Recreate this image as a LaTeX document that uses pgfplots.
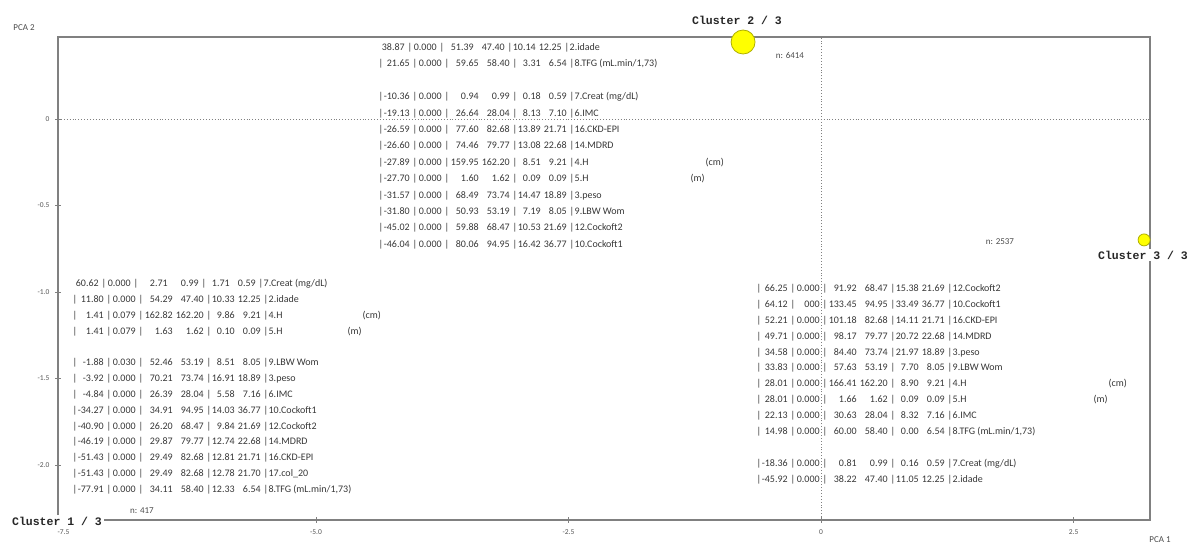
\documentclass[border=0pt]{standalone}
\usepackage{fontspec}
\setmainfont{Carlito}
\newfontfamily\clfont{Liberation Mono}
\usepackage{pgfplots}
\pgfplotsset{compat=1.18}
\definecolor{axgray}{RGB}{128,128,128}
\definecolor{txt}{RGB}{55,55,55}
\definecolor{cy}{RGB}{255,255,0}
\definecolor{cyd}{RGB}{175,175,0}
\newcommand\at[2]{\makebox[0pt][l]{\hspace*{#1}#2}}
\newcommand\rat[2]{\makebox[0pt][l]{\makebox[#1][r]{#2}}}
\newcommand\R[8]{\at{0pt}{#1}\rat{31pt}{#2}\at{34pt}{|}\rat{63pt}{#3}\at{66pt}{|}\rat{100pt}{#4}\rat{131pt}{#5}\at{134pt}{|}\rat{162pt}{#6}\rat{188pt}{#7}\at{191pt}{|}\at{196pt}{#8}}
\begin{document}
\begin{tikzpicture}
\useasboundingbox (0,0) rectangle (1192pt,545pt);
\begin{axis}[
  at={(58pt,25pt)}, anchor=south west,
  scale only axis, width=1092pt, height=483pt,
  xmin=-7.554, xmax=3.257, ymin=-2.318, ymax=0.474,
  axis line style={axgray, line width=1.3pt},
  xtick={-7.5,-5,-2.5,0,2.5}, xticklabels={-7.5,-5.0,-2.5,0,2.5},
  ytick={-2,-1.5,-1,-0.5,0}, yticklabels={-2.0,-1.5,-1.0,-0.5,0},
  xtick pos=lower, ytick pos=left,
  tick align=center, major tick length=6pt,
  tick style={axgray, line width=0.7pt},
  xticklabel style={font=\fontsize{7.5}{8}\selectfont, text=txt!85, yshift=-3pt},
  yticklabel style={font=\fontsize{7.5}{8}\selectfont, text=txt!85, xshift=-2pt},
  clip=false,
]
\draw[axgray, dotted, line width=0.9pt] (axis cs:-7.554,0) -- (axis cs:3.257,0);
\draw[axgray, dotted, line width=0.9pt] (axis cs:0,-2.318) -- (axis cs:0,0.474);
% cluster centres (PCA 1, PCA 2)
\addplot[only marks, mark=*, mark size=12pt, mark options={fill=cy, draw=cyd, line width=0.8pt}] coordinates {(-0.772,0.445)};
\addplot[only marks, mark=*, mark size=6pt, mark options={fill=cy, draw=cyd, line width=0.8pt}] coordinates {(3.198,-0.699)};
\addplot[only marks, mark=*, mark size=3pt, mark options={fill=cy, draw=cyd, line width=0.8pt}] coordinates {(-7.554,-2.318)};
\end{axis}
\begin{scope}[x=1pt,y=-1pt,shift={(0pt,545pt)},
  row/.style={anchor=base west, inner sep=0pt, font=\fontsize{10}{11}\selectfont, text=txt},
  small/.style={inner sep=0pt, font=\fontsize{9}{10}\selectfont, text=txt!90},
  cl/.style={fill=white, inner sep=2pt, font=\clfont\bfseries\fontsize{11.5}{12}\selectfont, text=black!85}]
% axis titles
\node[small] at (24,28) {PCA 2};
\node[small] at (1160,540) {PCA 1};
% cluster labels
\node[cl] at (737,20) {Cluster 2 / 3};
\node[cl] at (1143,255) {Cluster 3 / 3};
\node[cl] at (57,521) {Cluster 1 / 3};
\node[small] at (790,56) {n: 6414};
\node[small] at (1000,242) {n: 2537};
\node[small] at (142,511) {n: 417};
% block cluster 2
\node[row] at (373,50.5) {\R{}{38.87}{0.000}{51.39}{47.40}{10.14}{12.25}{2.idade}};
\node[row] at (378,66.9) {\R{|}{21.65}{0.000}{59.65}{58.40}{3.31}{6.54}{8.TFG (mL.min/1,73)}};
\node[row] at (378,99.7) {\R{|}{-10.36}{0.000}{0.94}{0.99}{0.18}{0.59}{7.Creat (mg/dL)}};
\node[row] at (378,116.1) {\R{|}{-19.13}{0.000}{26.64}{28.04}{8.13}{7.10}{6.IMC}};
\node[row] at (378,132.5) {\R{|}{-26.59}{0.000}{77.60}{82.68}{13.89}{21.71}{16.CKD-EPI}};
\node[row] at (378,148.9) {\R{|}{-26.60}{0.000}{74.46}{79.77}{13.08}{22.68}{14.MDRD}};
\node[row] at (378,165.3) {\R{|}{-27.89}{0.000}{159.95}{162.20}{8.51}{9.21}{4.H}\at{327pt}{(cm)}};
\node[row] at (378,181.7) {\R{|}{-27.70}{0.000}{1.60}{1.62}{0.09}{0.09}{5.H}\at{312pt}{(m)}};
\node[row] at (378,198.1) {\R{|}{-31.57}{0.000}{68.49}{73.74}{14.47}{18.89}{3.peso}};
\node[row] at (378,214.5) {\R{|}{-31.80}{0.000}{50.93}{53.19}{7.19}{8.05}{9.LBW Wom}};
\node[row] at (378,230.9) {\R{|}{-45.02}{0.000}{59.88}{68.47}{10.53}{21.69}{12.Cockoft2}};
\node[row] at (378,247.3) {\R{|}{-46.04}{0.000}{80.06}{94.95}{16.42}{36.77}{10.Cockoft1}};
% block cluster 1
\node[row] at (67,286.5) {\R{}{60.62}{0.000}{2.71}{0.99}{1.71}{0.59}{7.Creat (mg/dL)}};
\node[row] at (72,302.4) {\R{|}{11.80}{0.000}{54.29}{47.40}{10.33}{12.25}{2.idade}};
\node[row] at (72,318.2) {\R{|}{1.41}{0.079}{162.82}{162.20}{9.86}{9.21}{4.H}\at{290pt}{(cm)}};
\node[row] at (72,334.1) {\R{|}{1.41}{0.079}{1.63}{1.62}{0.10}{0.09}{5.H}\at{275pt}{(m)}};
\node[row] at (72,365.8) {\R{|}{-1.88}{0.030}{52.46}{53.19}{8.51}{8.05}{9.LBW Wom}};
\node[row] at (72,381.6) {\R{|}{-3.92}{0.000}{70.21}{73.74}{16.91}{18.89}{3.peso}};
\node[row] at (72,397.5) {\R{|}{-4.84}{0.000}{26.39}{28.04}{5.58}{7.16}{6.IMC}};
\node[row] at (72,413.3) {\R{|}{-34.27}{0.000}{34.91}{94.95}{14.03}{36.77}{10.Cockoft1}};
\node[row] at (72,429.2) {\R{|}{-40.90}{0.000}{26.20}{68.47}{9.84}{21.69}{12.Cockoft2}};
\node[row] at (72,445.0) {\R{|}{-46.19}{0.000}{29.87}{79.77}{12.74}{22.68}{14.MDRD}};
\node[row] at (72,460.9) {\R{|}{-51.43}{0.000}{29.49}{82.68}{12.81}{21.71}{16.CKD-EPI}};
\node[row] at (72,476.7) {\R{|}{-51.43}{0.000}{29.49}{82.68}{12.78}{21.70}{17.col\_20}};
\node[row] at (72,492.6) {\R{|}{-77.91}{0.000}{34.11}{58.40}{12.33}{6.54}{8.TFG (mL.min/1,73)}};
% block cluster 3
\node[row] at (756,291.5) {\R{|}{66.25}{0.000}{91.92}{68.47}{15.38}{21.69}{12.Cockoft2}};
\node[row] at (756,307.4) {\R{|}{64.12}{000}{133.45}{94.95}{33.49}{36.77}{10.Cockoft1}};
\node[row] at (756,323.3) {\R{|}{52.21}{0.000}{101.18}{82.68}{14.11}{21.71}{16.CKD-EPI}};
\node[row] at (756,339.2) {\R{|}{49.71}{0.000}{98.17}{79.77}{20.72}{22.68}{14.MDRD}};
\node[row] at (756,355.1) {\R{|}{34.58}{0.000}{84.40}{73.74}{21.97}{18.89}{3.peso}};
\node[row] at (756,371.0) {\R{|}{33.83}{0.000}{57.63}{53.19}{7.70}{8.05}{9.LBW Wom}};
\node[row] at (756,386.9) {\R{|}{28.01}{0.000}{166.41}{162.20}{8.90}{9.21}{4.H}\at{352pt}{(cm)}};
\node[row] at (756,402.8) {\R{|}{28.01}{0.000}{1.66}{1.62}{0.09}{0.09}{5.H}\at{337pt}{(m)}};
\node[row] at (756,418.7) {\R{|}{22.13}{0.000}{30.63}{28.04}{8.32}{7.16}{6.IMC}};
\node[row] at (756,434.6) {\R{|}{14.98}{0.000}{60.00}{58.40}{0.00}{6.54}{8.TFG (mL.min/1,73)}};
\node[row] at (756,466.4) {\R{|}{-18.36}{0.000}{0.81}{0.99}{0.16}{0.59}{7.Creat (mg/dL)}};
\node[row] at (756,482.3) {\R{|}{-45.92}{0.000}{38.22}{47.40}{11.05}{12.25}{2.idade}};
\end{scope}
\end{tikzpicture}
\end{document}
